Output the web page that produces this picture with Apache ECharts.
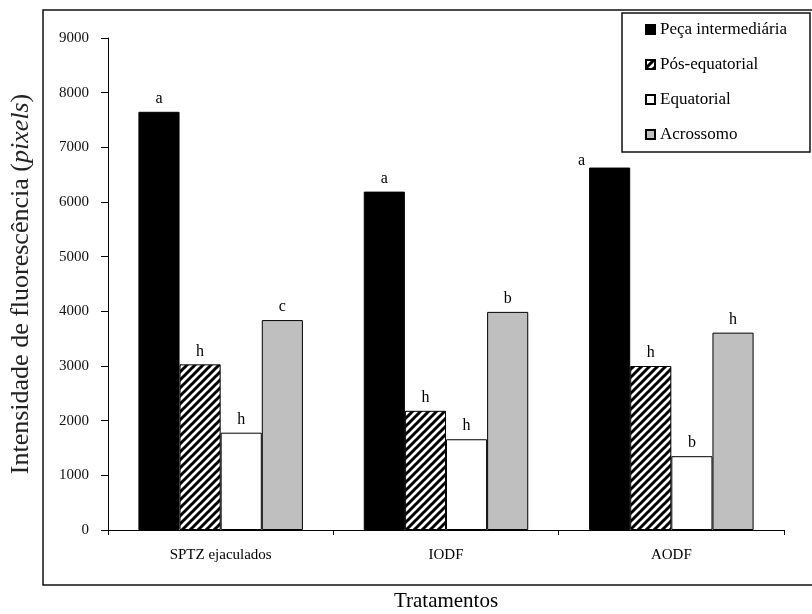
<!DOCTYPE html>
<html>
<head>
<meta charset="utf-8">
<script src="https://cdn.jsdelivr.net/npm/echarts@6/dist/echarts.min.js"></script>
<style>
html,body{margin:0;padding:0;background:#fff;}
#chart{width:812px;height:614px;}
</style>
</head>
<body>
<div id="chart"></div>
<script>
var categories = ['SPTZ ejaculados', 'IODF', 'AODF'];
var seriesNames = ['Peça intermediária', 'Pós-equatorial', 'Equatorial', 'Acrossomo'];
var pecaValues = [7650, 6190, 6630];
var posValues = [3030, 2180, 3000];
var equatorialValues = [1780, 1660, 1350];
var acrossomoValues = [3840, 3990, 3610];
var pecaLetters = ['a', 'a', 'a'];
var posLetters = ['h', 'h', 'h'];
var equatorialLetters = ['h', 'h', 'b'];
var acrossomoLetters = ['c', 'b', 'h'];
var yTicks = [0, 1000, 2000, 3000, 4000, 5000, 6000, 7000, 8000, 9000];

var FONT = 'Liberation Serif';

// hatch pattern
var pc = document.createElement('canvas');
pc.width = 8; pc.height = 8;
var ctx = pc.getContext('2d');
ctx.fillStyle = '#fff';
ctx.fillRect(0, 0, 8, 8);
ctx.strokeStyle = '#000';
ctx.lineWidth = 3;
ctx.beginPath();
ctx.moveTo(-2, 2); ctx.lineTo(2, -2);
ctx.moveTo(0, 8); ctx.lineTo(8, 0);
ctx.moveTo(6, 10); ctx.lineTo(10, 6);
ctx.stroke();
var hatch = { image: pc, repeat: 'repeat' };

function makeData(values, letters, offsets) {
  return values.map(function (v, i) {
    var d = { value: v, label: { formatter: letters[i] } };
    if (offsets && offsets[i]) d.label.offset = offsets[i];
    return d;
  });
}

var labelStyle = {
  show: true, position: 'top', distance: 5,
  fontFamily: FONT, fontSize: 16, color: '#000'
};

function barSeries(name, values, letters, color, offsets) {
  return {
    name: name,
    type: 'bar',
    data: makeData(values, letters, offsets),
    barGap: '0%',
    barCategoryGap: '27%',
    itemStyle: { color: color, borderColor: '#000', borderWidth: 1 },
    label: labelStyle,
    emphasis: { disabled: true }
  };
}

var chart = echarts.init(document.getElementById('chart'), null, { renderer: 'canvas' });
chart.setOption({
  animation: false,
  backgroundColor: '#fff',
  textStyle: { fontFamily: FONT },
  grid: { left: 108, right: 28, top: 38, bottom: 84, containLabel: false, outerBoundsMode: 'none' },
  legend: {
    orient: 'vertical',
    left: 645,
    top: 21,
    padding: 0,
    z: 10,
    itemWidth: 9,
    itemHeight: 9,
    itemGap: 18,
    icon: 'rect',
    textStyle: { fontFamily: FONT, fontSize: 17, color: '#000', lineHeight: 17 },
    data: seriesNames
  },
  graphic: [
    {
      type: 'rect', z: 1, silent: true,
      shape: { x: 43, y: 10, width: 800, height: 575 },
      style: { fill: null, stroke: '#111', lineWidth: 1.5 }
    },
    {
      type: 'rect', z: 1, silent: true,
      shape: { x: 622, y: 13, width: 188, height: 139 },
      style: { fill: null, stroke: '#111', lineWidth: 1.5 }
    }
  ],
  xAxis: {
    type: 'category',
    data: categories,
    name: 'Tratamentos',
    nameLocation: 'middle',
    nameGap: 61,
    nameTextStyle: { fontFamily: FONT, fontSize: 21, color: '#000' },
    axisLine: { lineStyle: { color: '#000', width: 1 } },
    axisTick: { show: true, length: 5, lineStyle: { color: '#000' } },
    axisLabel: { fontFamily: FONT, fontSize: 15, color: '#000', margin: 18 }
  },
  yAxis: {
    type: 'value',
    min: yTicks[0],
    max: yTicks[yTicks.length - 1],
    interval: 1000,
    name: '{n|Intensidade de fluorescência (}{i|pixels}{n|)}',
    nameLocation: 'middle',
    nameGap: 74,
    nameTextStyle: {
      rich: {
        n: { fontFamily: FONT, fontSize: 26, color: '#222' },
        i: { fontFamily: FONT, fontSize: 26, color: '#222', fontStyle: 'italic' }
      }
    },
    splitLine: { show: false },
    axisLine: { show: true, lineStyle: { color: '#000', width: 1 } },
    axisTick: { show: true, length: 7, lineStyle: { color: '#000' } },
    axisLabel: {
      fontFamily: FONT, fontSize: 15, color: '#111', margin: 19,
      formatter: function (v) { return String(v); }
    }
  },
  series: [
    barSeries(seriesNames[0], pecaValues, pecaLetters, '#000', [null, null, [-28, 6]]),
    barSeries(seriesNames[1], posValues, posLetters, hatch),
    barSeries(seriesNames[2], equatorialValues, equatorialLetters, '#fff'),
    barSeries(seriesNames[3], acrossomoValues, acrossomoLetters, '#bfbfbf')
  ]
});
</script>
</body>
</html>
